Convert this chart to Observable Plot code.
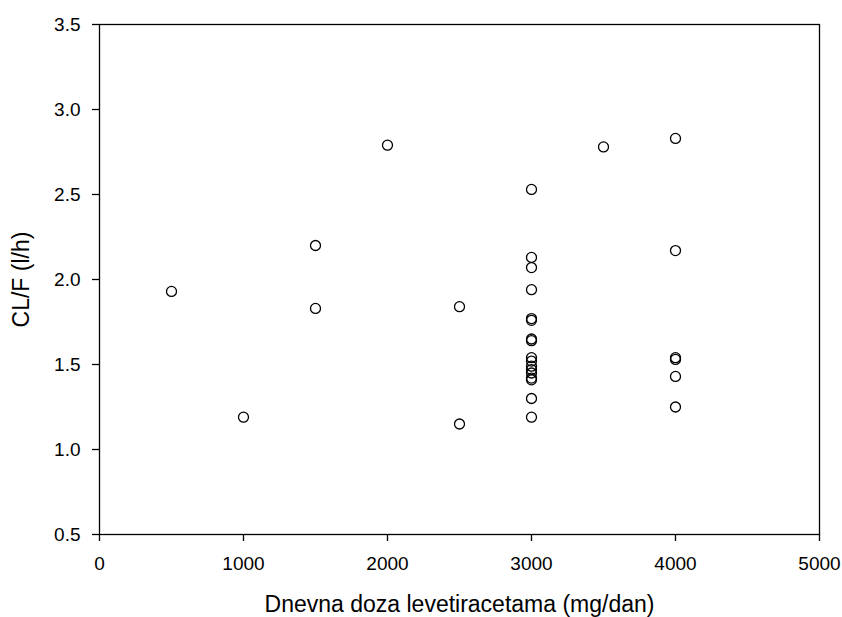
<!DOCTYPE html>
<html>
<head>
<meta charset="utf-8">
<script src="https://cdn.jsdelivr.net/npm/d3@7"></script>
<script src="https://cdn.jsdelivr.net/npm/@observablehq/plot@0.6"></script>
<style>
  html, body { margin: 0; padding: 0; background: #fff; }
</style>
</head>
<body>
<div id="chart"></div>
<script>
// Daily dose (mg/day) of each subject
const dose = [
  500, 1000, 1500, 1500, 2000, 2500, 2500,
  3000, 3000, 3000, 3000, 3000, 3000, 3000, 3000, 3000, 3000, 3000, 3000, 3000, 3000, 3000, 3000, 3000,
  3500,
  4000, 4000, 4000, 4000, 4000, 4000
];
// Clearance CL/F (l/h) of each subject
const clearance = [
  1.93, 1.19, 2.20, 1.83, 2.79, 1.84, 1.15,
  2.53, 2.13, 2.07, 1.94, 1.77, 1.76, 1.65, 1.64, 1.54, 1.52, 1.49, 1.47, 1.45, 1.42, 1.41, 1.30, 1.19,
  2.78,
  2.83, 2.17, 1.54, 1.53, 1.43, 1.25
];
const xTicks = [0, 1000, 2000, 3000, 4000, 5000];
const yTicks = [0.5, 1.0, 1.5, 2.0, 2.5, 3.0, 3.5];

const data = dose.map((d, i) => ({dose: d, cl: clearance[i]}));

const chart = Plot.plot({
  width: 842,
  height: 617,
  marginLeft: 99,
  marginRight: 23,
  marginTop: 24,
  marginBottom: 83,
  style: {fontFamily: "'Liberation Sans', Arial, sans-serif", fontSize: "19px", color: "#000", background: "#fff"},
  x: {domain: [0, 5000]},
  y: {domain: [0.5, 3.5]},
  marks: [
    Plot.frame({stroke: "#000", strokeWidth: 1.3}),
    Plot.axisX({
      ticks: xTicks, tickFormat: "d", tickSize: 7, tickPadding: 15,
      stroke: "#000", strokeWidth: 1.3, strokeOpacity: 1, fontSize: 19,
      label: "Dnevna doza levetiracetama (mg/dan)", labelAnchor: "center", labelArrow: "none", labelOffset: 77
    }),
    Plot.axisY({
      ticks: yTicks, tickFormat: ".1f", tickSize: 7, tickPadding: 12,
      stroke: "#000", strokeWidth: 1.3, strokeOpacity: 1, fontSize: 19,
      label: "CL/F (l/h)", labelAnchor: "center", labelArrow: "none", labelOffset: 87
    }),
    Plot.dot(data, {x: "dose", y: "cl", r: 5, stroke: "#000", strokeWidth: 1.3, fill: "none"})
  ]
});

// explicit font sizes for tick labels and axis titles
chart.querySelectorAll("g[aria-label$='tick label']").forEach(g => g.setAttribute("font-size", "19"));
chart.querySelectorAll("g[aria-label$='tick label'] text").forEach(t => t.setAttribute("font-size", "19"));
chart.querySelectorAll("g[aria-label$='axis label']").forEach(g => g.setAttribute("font-size", "23"));
chart.querySelectorAll("g[aria-label$='axis label'] text").forEach(t => t.setAttribute("font-size", "23"));

document.getElementById("chart").appendChild(chart);
</script>
</body>
</html>
